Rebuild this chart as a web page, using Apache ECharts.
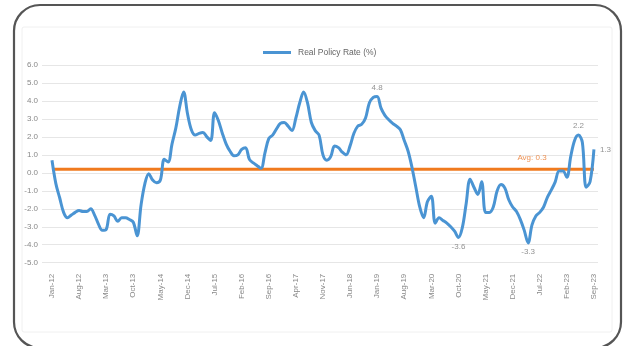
<!DOCTYPE html>
<html>
<head>
<meta charset="utf-8">
<script src="https://cdn.jsdelivr.net/npm/echarts@6/dist/echarts.min.js"></script>
<style>
html,body{margin:0;padding:0;background:#fff;}
#c{width:625px;height:346px;}
</style>
</head>
<body>
<div id="c"></div>
<script>
// month index 0 = Jan-12 ... 140 = Sep-23
const tickIndex = [0,7,14,21,28,35,42,49,56,63,70,77,84,91,98,105,112,119,126,133,140];
const tickLabels = ['Jan-12','Aug-12','Mar-13','Oct-13','May-14','Dec-14','Jul-15','Feb-16','Sep-16','Apr-17','Nov-17','Jun-18','Jan-19','Aug-19','Mar-20','Oct-20','May-21','Dec-21','Jul-22','Feb-23','Sep-23'];
const realRate = [
 0.7,-0.6,-1.4,-2.2,-2.5,-2.35,-2.2,-2.1,-2.15,-2.15,
 -2.0,-2.35,-2.85,-3.2,-3.15,-2.3,-2.4,-2.7,-2.5,-2.5,
 -2.6,-2.75,-3.5,-1.8,-0.6,-0.05,-0.4,-0.55,-0.4,0.75,
 0.6,1.6,2.5,3.7,4.5,3.3,2.4,2.1,2.2,2.25,
 2.0,1.8,3.35,2.9,2.2,1.6,1.2,0.95,1.0,1.3,
 1.4,0.75,0.55,0.4,0.25,1.1,1.9,2.1,2.45,2.75,
 2.8,2.6,2.35,3.05,3.9,4.5,3.9,2.8,2.35,2.1,
 1.0,0.7,0.9,1.5,1.4,1.15,1.0,1.5,2.2,2.6,
 2.7,3.05,3.9,4.2,4.25,3.6,3.2,2.95,2.75,2.6,
 2.4,1.8,1.2,0.3,-0.8,-1.9,-2.5,-1.6,-1.3,-2.8,
 -2.5,-2.65,-2.8,-3.0,-3.25,-3.6,-3.05,-1.7,-0.35,-0.8,
 -1.2,-0.5,-2.2,-2.2,-1.9,-1.0,-0.65,-0.85,-1.5,-1.9,
 -2.15,-2.6,-3.2,-3.9,-2.9,-2.4,-2.2,-1.9,-1.35,-0.95,
 -0.5,0.1,0.1,-0.25,0.9,1.8,2.1,1.7,-0.8,-0.5,
 1.3
];
const avgValue = 0.2;
const avgText = 'Avg: 0.3';
const annIndex = [84,105,123,136,140];
const annText = ['4.8','-3.6','-3.3','2.2','1.3'];
const annPos = ['top','bottom','bottom','top','right'];

const chart = echarts.init(document.getElementById('c'), null, {renderer:'canvas'});
const lastIdx = realRate.length - 1;
const lineData = realRate.map((v,i)=>[i,v]);
const annData = annIndex.map((idx,k)=>({
  value:[idx, realRate[idx]],
  label:{show:true, formatter:annText[k], position:annPos[k], distance: annPos[k]==='right'?6:5}
}));

chart.setOption({
  animation:false,
  backgroundColor:'#fff',
  graphic:[
    {type:'rect', shape:{x:22,y:27,width:590,height:305,r:2}, style:{fill:'none',stroke:'#f0f0f0',lineWidth:1}, silent:true, z:-1},
    {type:'rect', shape:{x:14,y:5,width:607,height:343,r:26}, style:{fill:'none',stroke:'#555',lineWidth:2.2}, silent:true, z:10}
  ],
  legend:{
    data:[{name:'Real Policy Rate (%)', icon:'rect', itemStyle:{color:'#4a94d3'}}],
    top:43, left:258,
    itemWidth:28, itemHeight:3, itemGap:6,
    textStyle:{color:'#666', fontSize:8.5, fontFamily:'Liberation Sans', padding:[0,0,0,2]}
  },
  grid:{left:42, right:27, top:65, bottom:83.3},
  xAxis:{
    type:'value', min:-2.58, max:141.05,
    axisLine:{show:false}, axisTick:{show:false}, splitLine:{show:false},
    axisLabel:{
      customValues: tickIndex,
      rotate:90, margin:11, color:'#888', fontSize:8, fontFamily:'Liberation Sans',
      formatter:(v)=>{const k=tickIndex.indexOf(Math.round(v)); return k>=0?tickLabels[k]:'';}
    }
  },
  yAxis:{
    type:'value', min:-5, max:6, interval:1,
    axisLine:{show:false}, axisTick:{show:false},
    splitLine:{lineStyle:{color:'#e6e6e6', width:1}},
    axisLabel:{color:'#888', fontSize:8, margin:4, fontFamily:'Liberation Sans', formatter:(v)=>v.toFixed(1)}
  },
  series:[
    {
      name:'Real Policy Rate (%)', type:'line', data:lineData, symbol:'none', smooth:0.35,
      lineStyle:{color:'#4a94d3', width:3}, itemStyle:{color:'#4a94d3'}, z:3
    },
    {
      name:'avg', type:'line', data:[[0,avgValue],[lastIdx,avgValue]], symbol:'none',
      lineStyle:{color:'#f07a1e', width:3}, z:2
    },
    {
      name:'avgLabel', type:'scatter', data:[{value:[124,avgValue], label:{show:true, formatter:avgText, position:'top', distance:7}}],
      symbolSize:0, label:{color:'#e8772a', fontSize:8, fontFamily:'Liberation Sans'}, z:4
    },
    {
      name:'ann', type:'scatter', data:annData, symbolSize:0,
      label:{color:'#777', fontSize:8, fontFamily:'Liberation Sans'}, z:4
    }
  ]
});
</script>
</body>
</html>
